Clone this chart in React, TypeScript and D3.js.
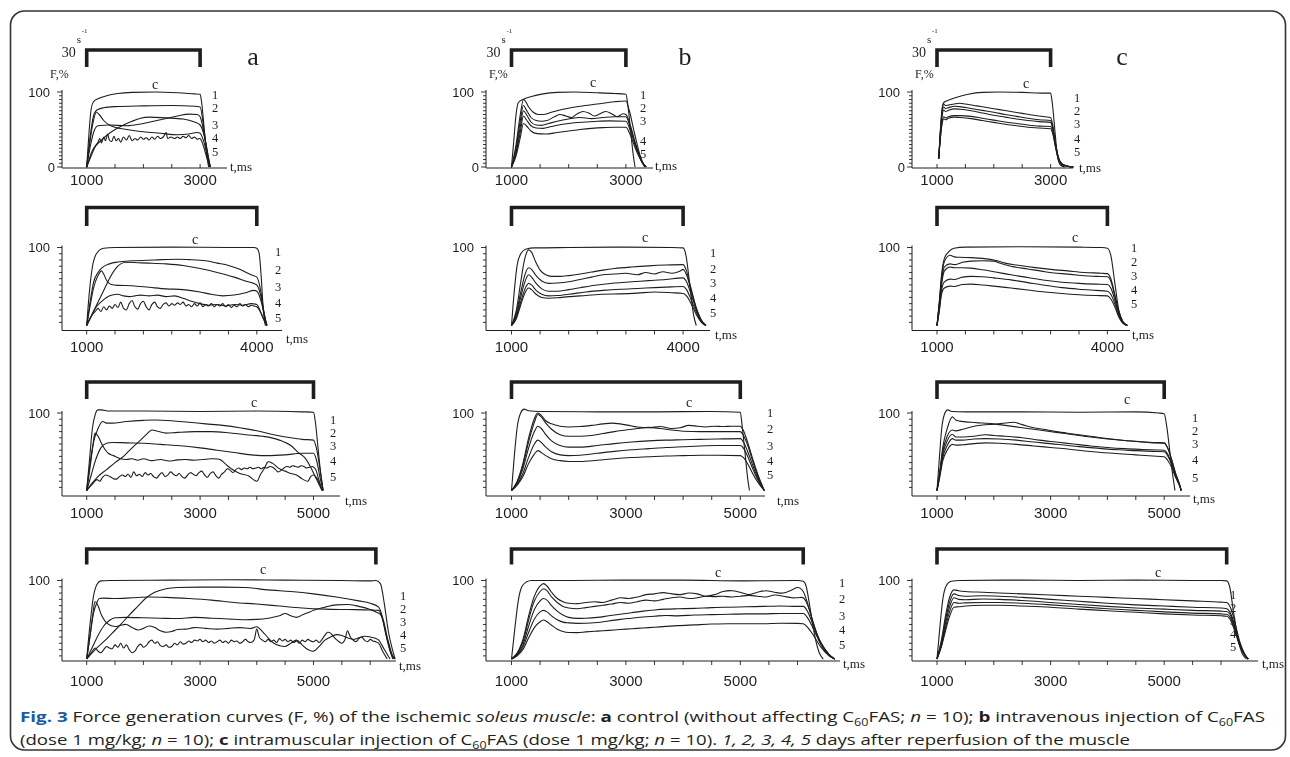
import React from 'react';
import * as d3 from 'd3';

type Pt = [number, number];

// ---------------- DATA (time ms, force %) ----------------
const curveNames = ['1', '2', '3', '4', '5'];
const panelLetters = ['a', 'b', 'c'];
const rowTickLabels = [[1000, 3000], [1000, 4000], [1000, 3000, 5000], [1000, 3000, 5000]];
const rowTickEnd = [3000, 4000, 5000, 6000];
const stimulusStart = 1000;
const stimulusEnd = [3000, 4000, 5000, 6100];

// Row 1, column a
const A1: Pt[][] = [
  [[1000,0],[1040,45],[1080,78],[1120,87],[1200,91],[1350,95],[1550,98],[1800,99.5],[2200,100],[2600,99],[2900,97.5],[3000,97],[3020,90],[3080,45],[3120,15],[3150,0]],
  [[1000,0],[1060,40],[1120,68],[1180,76],[1300,79],[1500,80.5],[2000,81.5],[2500,82],[2900,81],[3000,80],[3060,55],[3120,20],[3170,0]],
  [[1000,0],[1060,35],[1120,62],[1170,73],[1220,70],[1300,62],[1400,56],[1500,53],[1700,50],[2000,47],[2300,45],[2600,43],[2800,44],[2950,46],[3000,45],[3080,30],[3150,8],[3180,0]],
  [[1000,0],[1080,15],[1150,27],[1250,35],[1350,42],[1500,50],[1650,56],[1800,61],[1950,65],[2100,66.5],[2400,65.5],[2700,64],[2900,60],[3000,56],[3060,45],[3130,20],[3180,0]],
  [[1000,0],[1070,30],[1130,48],[1200,55],[1400,56],[1700,55],[2000,58],[2300,63],[2600,68],[2800,70.5],[2950,70],[3000,67],[3070,45],[3140,15],[3180,0]],
  [[1000,0],[1050,12],[1100,22],[1150,28],[1200,33],[1230,38],[1260,32],[1300,40],[1330,35],[1370,44],[1400,36],[1440,34],[1480,41],[1520,35],[1560,38],[1600,33],[1650,40],[1700,36],[1750,42],[1800,35],[1850,38],[1900,36],[1950,40],[2000,37],[2050,39],[2100,36],[2150,40],[2200,37],[2250,41],[2300,38],[2350,40],[2400,46],[2430,38],[2480,40],[2550,38],[2600,40],[2650,38],[2700,41],[2750,39],[2800,42],[2850,38],[2900,40],[2950,37],[3000,38],[3050,30],[3120,12],[3170,0]],
];

// Row 2, column a
const A2: Pt[][] = [
  [[1000,0],[1050,45],[1100,75],[1180,93],[1300,99],[1500,100],[2500,100.5],[3500,100],[3950,100],[4000,99],[4040,93],[4080,60],[4110,25],[4150,0]],
  [[1000,0],[1060,30],[1120,55],[1200,68],[1270,74],[1400,79],[1550,81.5],[1800,83],[2200,84],[2600,85],[2800,84.5],[3100,83],[3300,80],[3500,77],[3700,72],[3900,65],[4000,62],[4060,48],[4120,20],[4170,0]],
  [[1000,0],[1100,15],[1200,30],[1300,45],[1400,60],[1500,72],[1600,79],[1700,81],[1900,80.5],[2100,80],[2400,79],[2700,77],[3000,73],[3300,68],[3600,62],[3800,57],[4000,52],[4070,38],[4130,15],[4180,0]],
  [[1000,0],[1060,25],[1120,48],[1200,64],[1260,70],[1300,66],[1350,58],[1420,53],[1550,51.5],[1800,51],[2100,49],[2400,47],[2700,46],[3000,43],[3200,40],[3400,38],[3600,39],[3800,42],[3950,45],[4000,44],[4080,30],[4140,10],[4180,0]],
  [[1000,0],[1080,12],[1150,22],[1250,30],[1350,36],[1450,39],[1550,40],[1650,38],[1750,37],[1850,38],[1950,39],[2100,38],[2250,39],[2400,37],[2550,38],[2700,35],[2850,31],[3000,28],[3150,26],[3300,27],[3450,25],[3600,27],[3750,26],[3900,28],[4000,27],[4080,15],[4150,4],[4180,0]],
  [[1000,0],[1050,8],[1100,14],[1150,18],[1200,22],[1250,18],[1300,24],[1350,20],[1400,25],[1450,22],[1500,27],[1550,23],[1600,30],[1650,22],[1700,20],[1750,28],[1800,32],[1850,24],[1900,21],[1950,28],[2000,31],[2050,24],[2100,20],[2150,27],[2200,30],[2250,24],[2300,22],[2350,27],[2400,29],[2450,25],[2500,28],[2550,26],[2600,29],[2650,27],[2700,30],[2750,25],[2800,27],[2850,24],[2900,28],[2950,25],[3000,29],[3050,24],[3100,27],[3150,25],[3200,28],[3250,24],[3300,27],[3350,25],[3400,28],[3450,24],[3500,27],[3550,23],[3600,26],[3650,24],[3700,28],[3750,25],[3800,27],[3850,24],[3900,26],[3950,25],[4000,24],[4060,18],[4120,8],[4170,0]],
];

// Row 3, column a
const A3: Pt[][] = [
  [[1000,0],[1050,40],[1100,80],[1150,98],[1200,104],[1250,104],[1400,102.5],[2000,102.5],[3000,102],[4000,102.5],[4800,101.5],[5000,101],[5030,90],[5080,55],[5130,20],[5170,0]],
  [[1000,0],[1060,35],[1120,62],[1200,80],[1280,89],[1350,87],[1450,87],[1700,89],[2000,90.5],[2200,91],[2500,90],[2800,88],[3100,86],[3400,84],[3700,81],[4000,77],[4300,72],[4600,68],[4800,66],[5000,65],[5050,55],[5120,25],[5170,0]],
  [[1000,0],[1100,10],[1200,18],[1350,27],[1500,36],[1650,44],[1800,55],[1950,65],[2050,72],[2150,78],[2250,76.5],[2400,74],[2600,75],[2900,76],[3200,76],[3500,74.5],[3800,72],[4100,70],[4400,65],[4600,58],[4750,48],[4850,42],[4950,30],[5050,15],[5150,0]],
  [[1000,0],[1060,30],[1110,58],[1150,74],[1200,70],[1280,58],[1380,48],[1470,45],[1600,41],[1700,40],[1800,41],[1900,39],[2000,41],[2150,38.5],[2300,40],[2450,38],[2600,39.5],[2750,40],[2900,39],[3050,40],[3200,41],[3350,40],[3450,34],[3550,28],[3700,22],[3850,19],[4000,12],[4060,20],[4130,28],[4200,37],[4280,35],[4400,28],[4500,25],[4600,22],[4700,20],[4800,15],[4900,12],[4950,18],[5000,20],[5050,17],[5100,10],[5160,0]],
  [[1000,0],[1080,20],[1160,40],[1250,55],[1350,61],[1450,62],[1700,61.5],[2000,61],[2300,59.5],[2600,58],[3000,55],[3300,52],[3600,49],[3900,46],[4200,45],[4500,46],[4800,48],[5000,48],[5050,40],[5120,15],[5170,0]],
  [[1000,0],[1060,5],[1120,10],[1180,14],[1230,12],[1280,17],[1330,20],[1380,19],[1430,17],[1480,15],[1530,15],[1580,18],[1630,20],[1680,18],[1730,21],[1780,17],[1830,24],[1880,19],[1930,21],[1980,18],[2030,23],[2080,20],[2130,22],[2180,18],[2230,16],[2280,20],[2330,23],[2380,18],[2430,20],[2480,24],[2530,21],[2580,19],[2630,22],[2680,18],[2730,16],[2780,20],[2830,23],[2880,21],[2930,19],[2980,23],[3030,25],[3080,20],[3130,17],[3180,22],[3230,24],[3280,19],[3330,16],[3380,21],[3430,24],[3480,28],[3530,26],[3580,23],[3630,27],[3680,29],[3730,27],[3780,29],[3830,28],[3880,30],[3930,28],[3980,29],[4030,30],[4080,28],[4130,30],[4180,29],[4230,31],[4280,30],[4330,27],[4380,24],[4430,26],[4480,29],[4530,31],[4580,30],[4630,32],[4680,31],[4730,30],[4780,32],[4830,31],[4880,29],[4930,30],[4980,31],[5030,28],[5090,15],[5150,0]],
];

// Row 4, column a
const A4: Pt[][] = [
  [[1000,0],[1060,45],[1120,80],[1180,95],[1250,99.5],[1400,100],[2500,100.5],[3500,101],[4500,100.5],[5500,100],[6000,99.5],[6100,100],[6180,96],[6250,70],[6320,35],[6400,10],[6440,0]],
  [[1000,0],[1060,30],[1120,58],[1180,72],[1220,77],[1300,77.5],[1500,77],[1800,78],[2100,79],[2400,78.5],[2800,77],[3200,75],[3600,72],[4000,70],[4400,67.5],[4800,65],[5200,63.5],[5600,63],[6000,62.5],[6150,62],[6220,50],[6300,25],[6380,5],[6420,0]],
  [[1000,0],[1150,12],[1300,22],[1450,33],[1600,44],[1750,56],[1900,67],[2050,78],[2200,85],[2400,89.5],[2600,91],[3000,91.5],[3400,91.5],[3800,91],[4200,88],[4600,86],[5000,83],[5400,79],[5800,74],[6000,71],[6150,66],[6230,50],[6310,25],[6390,5],[6430,0]],
  [[1000,0],[1060,30],[1110,58],[1150,73],[1200,68],[1260,56],[1350,46],[1450,42],[1530,41.5],[1600,43],[1700,44],[1800,40],[1900,37],[2000,39],[2100,42],[2200,40],[2300,36],[2400,34],[2500,35],[2600,37.5],[2750,38],[2900,40],[3100,39],[3300,38],[3500,39],[3700,40],[3900,39],[4000,41],[4100,35],[4200,27],[4300,20],[4400,17],[4500,16],[4600,20],[4700,24],[4800,18],[4900,12],[5000,10],[5100,16],[5200,24],[5300,28],[5400,31],[5500,30],[5600,27],[5700,25],[5800,27],[5900,29],[6000,28],[6100,26],[6150,24],[6250,12],[6350,0]],
  [[1000,0],[1100,15],[1200,30],[1300,42],[1400,49],[1500,52.5],[1700,53],[2000,52.5],[2300,52],[2600,51.5],[2900,53],[3200,52],[3500,51],[3800,50],[4000,50.5],[4200,52],[4400,55],[4500,58],[4600,55],[4700,53],[4800,56],[4900,59],[5000,62],[5200,66],[5400,69],[5600,69.5],[5800,67],[6000,63],[6100,60],[6200,55],[6280,30],[6350,10],[6400,0]],
  [[1000,0],[1080,8],[1150,14],[1200,10],[1250,8],[1300,12],[1350,16],[1400,14],[1450,13],[1500,18],[1550,15],[1600,20],[1650,14],[1700,18],[1750,12],[1800,8],[1850,10],[1900,16],[1950,19],[2000,15],[2050,17],[2100,22],[2150,24],[2200,20],[2250,22],[2300,17],[2350,16],[2400,18],[2450,15],[2500,16],[2550,20],[2600,18],[2650,22],[2700,19],[2750,20],[2800,23],[2850,21],[2900,24],[2950,23],[3000,25],[3050,22],[3100,24],[3150,21],[3200,23],[3250,20],[3300,22],[3350,24],[3400,21],[3450,23],[3500,20],[3550,24],[3600,22],[3650,23],[3700,20],[3750,22],[3800,25],[3850,22],[3900,21],[3950,24],[4000,38],[4050,27],[4100,24],[4150,22],[4200,25],[4250,22],[4300,24],[4350,21],[4400,26],[4450,23],[4500,25],[4550,22],[4600,24],[4650,21],[4700,23],[4750,20],[4800,24],[4850,22],[4900,25],[4950,23],[5000,22],[5050,24],[5100,21],[5150,25],[5200,30],[5250,34],[5300,33],[5350,29],[5400,25],[5450,22],[5500,20],[5550,24],[5600,36],[5650,28],[5700,24],[5750,22],[5800,26],[5850,28],[5900,24],[5950,22],[6000,25],[6050,23],[6100,22],[6150,20],[6220,10],[6300,0]],
];

// Row 1, column b
const B1: Pt[][] = [
  [[1000,0],[1040,35],[1080,70],[1120,86],[1200,90],[1350,94],[1550,97.5],[1800,99.5],[2100,100],[2500,99],[2800,98],[3000,97],[3030,85],[3080,50],[3130,15],[3160,0]],
  [[1000,0],[1080,30],[1150,68],[1210,90],[1240,88],[1300,80],[1380,73],[1470,70],[1550,70],[1700,73],[1900,77],[2200,81],[2500,84],[2800,87],[3000,88],[3060,75],[3150,45],[3250,15],[3330,0]],
  [[1000,0],[1080,25],[1150,60],[1210,82],[1260,76],[1340,66],[1430,62],[1520,61],[1620,62],[1750,67],[1850,70],[1950,68],[2050,66],[2150,71],[2250,74],[2350,72],[2450,68],[2550,71],[2650,74],[2750,71],[2850,67],[2950,71],[3000,70],[3080,55],[3170,30],[3270,8],[3330,0]],
  [[1000,0],[1080,20],[1150,52],[1210,75],[1260,70],[1340,60],[1430,56],[1520,55.5],[1650,58],[1800,61],[2000,64],[2200,66],[2400,64.5],[2600,66],[2800,67],[3000,67],[3080,52],[3180,28],[3280,7],[3340,0]],
  [[1000,0],[1080,18],[1150,45],[1210,68],[1260,63],[1340,55],[1430,52],[1550,51.5],[1700,54],[1900,57],[2100,59],[2300,60],[2500,61],[2700,61.5],[3000,61],[3080,48],[3180,25],[3280,7],[3350,0]],
  [[1000,0],[1080,15],[1150,38],[1210,58],[1260,55],[1340,48],[1450,44.5],[1600,44],[1800,46],[2000,48],[2200,50],[2400,51.5],[2600,52.5],[2800,53],[3000,53],[3080,42],[3180,22],[3290,6],[3360,0]],
];

// Row 2, column b
const B2: Pt[][] = [
  [[1000,0],[1050,45],[1100,78],[1170,93],[1260,98],[1400,99.5],[2000,100],[3000,100.5],[3800,100],[4000,99.5],[4050,90],[4120,50],[4180,15],[4230,0]],
  [[1000,0],[1080,18],[1160,55],[1230,85],[1300,97],[1350,94],[1420,82],[1500,71],[1600,65],[1700,63],[1850,63],[2000,64],[2200,66],[2400,68.5],[2600,71],[2800,73],[3100,75],[3400,76.5],[3700,77.5],[4000,78],[4050,72],[4130,50],[4220,25],[4320,7],[4400,0]],
  [[1000,0],[1080,15],[1160,42],[1230,64],[1300,74],[1350,72],[1430,64],[1530,57],[1650,54],[1800,54.5],[2000,56],[2200,59],[2400,62],[2600,65],[2800,66],[3000,67],[3200,65],[3350,68],[3500,66],[3650,69],[3800,67],[3950,70],[4000,72],[4060,65],[4140,45],[4230,22],[4320,6],[4400,0]],
  [[1000,0],[1080,12],[1160,36],[1230,55],[1300,65],[1350,62],[1430,54],[1530,47],[1650,44],[1800,44],[2000,46],[2200,48.5],[2500,52],[2800,54.5],[3100,56],[3400,57.5],[3700,59],[4000,61],[4060,56],[4140,40],[4230,20],[4320,5],[4400,0]],
  [[1000,0],[1080,10],[1160,30],[1230,46],[1300,54],[1350,52],[1430,45],[1530,40],[1650,38],[1800,38.5],[2000,40],[2300,43],[2600,45],[2900,46.5],[3200,47.5],[3500,48.5],[3800,49.5],[4000,50],[4060,46],[4140,33],[4230,17],[4320,5],[4400,0]],
  [[1000,0],[1080,8],[1160,26],[1230,41],[1300,48],[1350,46],[1430,40],[1530,36],[1650,35],[1800,35.5],[2000,37],[2300,38.5],[2600,40],[2900,40.5],[3200,41.5],[3500,43],[3800,42],[4000,41],[4060,38],[4140,28],[4230,14],[4320,4],[4400,0]],
];

// Row 3, column b
const B3: Pt[][] = [
  [[1000,0],[1050,45],[1100,82],[1160,100],[1220,105],[1300,103],[1500,102],[2500,101.5],[3500,101.5],[4500,102],[5000,101],[5030,85],[5080,50],[5130,15],[5160,0]],
  [[1000,0],[1100,12],[1200,35],[1300,68],[1400,93],[1460,100],[1520,97],[1600,90],[1700,86],[1850,83],[2000,82],[2200,82.5],[2400,84],[2600,86],[2750,87],[2900,86],[3050,84],[3200,82],[3400,81],[3600,82.5],[3800,80],[3950,81],[4100,84],[4250,83],[4400,82],[4550,83],[4700,82.5],[4850,83],[5000,83],[5050,78],[5130,62],[5220,40],[5320,18],[5420,0]],
  [[1000,0],[1100,11],[1200,32],[1300,63],[1400,88],[1460,98],[1520,95],[1600,87],[1700,79],[1850,72],[2000,70],[2200,70],[2400,71],[2600,73.5],[2800,76],[3000,78],[3200,80],[3400,81.5],[3600,80],[3800,78],[4000,76.5],[4300,76],[4600,76],[5000,76],[5050,72],[5130,58],[5220,37],[5320,16],[5420,0]],
  [[1000,0],[1100,10],[1200,28],[1300,55],[1400,76],[1460,83],[1520,80],[1600,72],[1700,64],[1850,58],[2000,56],[2200,56],[2500,58],[2800,60.5],[3100,62.5],[3400,64],[3700,65],[4000,65.5],[4300,66],[4600,66.5],[5000,67],[5060,62],[5140,48],[5230,30],[5330,12],[5420,0]],
  [[1000,0],[1100,8],[1200,22],[1300,43],[1400,60],[1460,65],[1520,62],[1600,56],[1700,50],[1850,46],[2000,45],[2200,45.5],[2500,48],[2800,50.5],[3100,52.5],[3400,54],[3700,55.5],[4000,56.5],[4300,57.5],[4600,58],[5000,58],[5060,54],[5140,42],[5230,26],[5330,10],[5420,0]],
  [[1000,0],[1100,7],[1200,18],[1300,35],[1400,47],[1460,51.5],[1520,49],[1600,45],[1700,41],[1850,38.5],[2000,37.5],[2200,37.5],[2500,39],[2800,41],[3100,42.5],[3400,43.5],[3700,44.5],[4000,45],[4300,45.5],[4600,45.5],[5000,45],[5060,42],[5140,33],[5230,20],[5330,8],[5420,0]],
];

// Row 4, column b
const B4: Pt[][] = [
  [[1000,0],[1060,40],[1120,75],[1180,92],[1260,98],[1350,100],[2000,100],[3000,100.5],[4000,100.5],[5000,99.5],[6000,100],[6100,99],[6150,93],[6220,65],[6300,30],[6380,8],[6450,0]],
  [[1000,0],[1100,8],[1200,25],[1300,55],[1400,80],[1500,93],[1560,96],[1620,93],[1700,85],[1800,77],[1900,73],[2000,71],[2150,70.5],[2300,72],[2450,73],[2600,72],[2750,75],[2900,78],[3050,77],[3200,79],[3350,82],[3500,83],[3650,84.5],[3800,83],[3950,82],[4100,84],[4250,83],[4400,80],[4550,82],[4700,86],[4850,87],[5000,85],[5150,82],[5300,85],[5450,87],[5600,85],[5750,84],[5900,88],[6000,91],[6050,90],[6100,86],[6180,70],[6280,45],[6400,20],[6550,5],[6650,0]],
  [[1000,0],[1100,7],[1200,22],[1300,50],[1400,74],[1500,86],[1560,89.5],[1620,87],[1700,79],[1800,72],[1900,67],[2000,65],[2150,64],[2300,65.5],[2450,67],[2600,68.5],[2750,70],[2900,72],[3050,71],[3200,73],[3350,75],[3500,74],[3650,76],[3800,78],[3950,79],[4100,77],[4250,78],[4400,80],[4550,79.5],[4700,80],[4850,79],[5000,80],[5150,81],[5300,80],[5450,79],[5600,81.5],[5750,80],[5900,78],[6000,78],[6100,78],[6180,68],[6280,45],[6400,22],[6550,6],[6650,0]],
  [[1000,0],[1100,6],[1200,18],[1300,42],[1400,63],[1500,74],[1560,77],[1620,75],[1700,68],[1800,61],[1900,56],[2000,53],[2150,51.7],[2300,52],[2500,53],[2700,55],[2900,57],[3100,59],[3300,61],[3500,62.5],[3700,63.5],[3900,64],[4200,64.5],[4500,65.5],[4800,66],[5100,66.5],[5400,67],[5700,67.5],[6000,67],[6100,67],[6180,60],[6280,42],[6400,22],[6550,6],[6650,0]],
  [[1000,0],[1100,5],[1200,15],[1300,34],[1400,51],[1500,60],[1560,62],[1620,60],[1700,55],[1800,50],[1900,47],[2000,46],[2150,45.4],[2300,45.5],[2500,46.5],[2700,48.5],[2900,50.5],[3100,52],[3300,53.5],[3500,54.5],[3700,55.5],[3900,55],[4200,56],[4500,56.5],[4800,57],[5100,57.5],[5400,57.5],[5700,58],[6000,58],[6100,58],[6180,52],[6280,38],[6400,20],[6550,5],[6650,0]],
  [[1000,0],[1100,4],[1200,12],[1300,27],[1400,40],[1500,47.5],[1560,49.6],[1620,47.5],[1700,43],[1800,38],[1900,35],[2000,33.8],[2150,33.6],[2300,34.5],[2500,35.5],[2700,36.5],[2900,37.5],[3100,38.5],[3300,39.5],[3500,40.5],[3700,41.5],[3900,42.5],[4200,43.5],[4500,44.5],[4800,45],[5100,45],[5400,45],[5700,45.5],[6000,45.4],[6100,45],[6180,40],[6280,30],[6400,16],[6550,4],[6650,0]],
];

// Row 1, column c
const C1: Pt[][] = [
  [[1030,11],[1060,50],[1090,78],[1120,86],[1200,89],[1350,93],[1550,97],[1800,99.5],[2100,100],[2500,99.5],[2900,98.5],[3000,98.5],[3030,85],[3080,45],[3120,15],[3170,3],[3250,0]],
  [[1030,11],[1060,48],[1090,75],[1120,84],[1150,82],[1200,82.5],[1300,84],[1400,85],[1500,84],[1700,81.5],[1900,79],[2100,76.5],[2300,74],[2500,71.5],[2700,69],[2900,67],[3000,66],[3040,55],[3090,30],[3140,12],[3200,4],[3300,1],[3400,0]],
  [[1030,11],[1060,46],[1090,72],[1120,80],[1150,78],[1200,79],[1300,81],[1400,80.5],[1600,78],[1800,75.5],[2000,73],[2200,70],[2400,67.5],[2600,65],[2800,63],[3000,62],[3040,52],[3090,30],[3140,12],[3200,4],[3300,1],[3400,0]],
  [[1030,11],[1060,44],[1090,68],[1120,76],[1150,74],[1200,75.5],[1300,77.5],[1400,77],[1600,75],[1800,72],[2000,69],[2200,66.5],[2400,64],[2600,62],[2800,60.5],[3000,59.5],[3040,50],[3090,28],[3140,11],[3200,4],[3300,1],[3400,0]],
  [[1030,11],[1060,40],[1090,60],[1120,67],[1150,65.5],[1200,67],[1300,68.5],[1400,68.5],[1600,67.5],[1800,65],[2000,62.5],[2200,60],[2400,58],[2600,56],[2800,54.5],[3000,54],[3040,46],[3090,26],[3140,10],[3200,3],[3300,1],[3400,0]],
  [[1030,11],[1060,38],[1090,58],[1120,64],[1150,63],[1200,65],[1300,66.5],[1400,66],[1600,64.5],[1800,62],[2000,59.5],[2200,57],[2400,55],[2600,53],[2800,52],[3000,51],[3040,44],[3090,25],[3140,10],[3200,3],[3300,1],[3400,0]],
];

// Row 2, column c
const C2: Pt[][] = [
  [[1000,0],[1040,30],[1080,65],[1130,86],[1200,94],[1300,99],[1500,100.5],[2500,101],[3500,100.5],[3900,100],[4000,99],[4060,90],[4130,55],[4200,20],[4270,5],[4350,0]],
  [[1000,0],[1040,28],[1080,60],[1130,82],[1230,90],[1300,88],[1400,87.5],[1600,87],[1800,86],[2000,84],[2200,80],[2400,77.5],[2700,74.5],[3000,72],[3300,70],[3600,68],[3900,67],[4000,66.5],[4060,60],[4130,40],[4200,18],[4270,5],[4350,0]],
  [[1000,0],[1040,26],[1080,56],[1130,75],[1230,79],[1300,78],[1450,81],[1600,82.5],[1800,83],[2000,82.5],[2100,80],[2300,76],[2600,72.5],[2900,69],[3200,66.5],[3500,64.5],[3800,63],[4000,62.5],[4060,57],[4130,38],[4200,17],[4270,5],[4350,0]],
  [[1000,0],[1040,24],[1080,52],[1130,70],[1230,75],[1300,74],[1450,74],[1600,73.5],[1800,71.5],[2000,69],[2300,65],[2600,61.5],[2900,58],[3200,55.5],[3500,54],[3800,53],[4000,52.5],[4060,48],[4130,33],[4200,15],[4270,4],[4350,0]],
  [[1000,0],[1040,20],[1080,45],[1130,56],[1230,59.5],[1300,59],[1450,62],[1600,63],[1800,62.5],[2000,61],[2300,58.5],[2600,55],[2900,51.5],[3200,48.5],[3500,46.5],[3800,45],[4000,44],[4060,40],[4130,28],[4200,13],[4270,4],[4350,0]],
  [[1000,0],[1040,18],[1080,40],[1130,48],[1230,50.5],[1300,50],[1450,52.5],[1600,53],[1800,52],[2000,50.5],[2300,48],[2600,45.5],[2900,43],[3200,41],[3500,39.5],[3800,38.5],[4000,38],[4060,34],[4130,24],[4200,11],[4270,3],[4350,0]],
];

// Row 3, column c
const C3: Pt[][] = [
  [[1000,0],[1040,40],[1080,78],[1130,98],[1190,104],[1260,102],[1500,101.5],[2500,101.5],[3500,101],[4500,101.5],[4900,100],[5000,99],[5040,85],[5100,50],[5150,20],[5190,0]],
  [[1000,0],[1050,25],[1100,55],[1180,80],[1270,95],[1330,91],[1400,89.5],[1600,88],[1800,87],[2000,86],[2200,84],[2500,81],[2800,78],[3100,75],[3400,72],[3700,69],[4000,66.5],[4300,64.5],[4600,63],[4800,62],[5000,61.5],[5060,55],[5130,40],[5200,22],[5270,8],[5300,0]],
  [[1000,0],[1050,24],[1100,50],[1180,70],[1270,78],[1330,77],[1450,79],[1600,82],[1800,84.5],[2000,85.5],[2200,87],[2350,88],[2500,85],[2700,81],[2900,78.5],[3100,76],[3400,73],[3700,70],[4000,67],[4300,64.5],[4600,62.5],[4800,61.5],[5000,61],[5060,55],[5130,40],[5200,22],[5270,8],[5300,0]],
  [[1000,0],[1050,22],[1100,46],[1180,64],[1270,72.5],[1330,69],[1450,69],[1650,70],[1850,72],[2000,71],[2200,70],[2500,68],[2800,65],[3100,62.5],[3400,60],[3700,57.5],[4000,55.5],[4300,54],[4600,53],[5000,52],[5060,47],[5130,35],[5200,20],[5270,7],[5300,0]],
  [[1000,0],[1050,20],[1100,42],[1180,58],[1270,67],[1330,65],[1450,65],[1650,66.5],[1850,67],[2100,66.5],[2400,65],[2700,62.5],[3000,60.5],[3300,58],[3600,56],[3900,54],[4200,52.5],[4500,51.5],[4800,50.5],[5000,50],[5060,45],[5130,34],[5200,19],[5270,7],[5300,0]],
  [[1000,0],[1050,18],[1100,38],[1180,52],[1270,59.5],[1330,58.5],[1450,59],[1650,60.5],[1850,61.5],[2100,61],[2400,59.5],[2700,57.5],[3000,55.5],[3300,53.5],[3600,51],[3900,49],[4200,47.5],[4500,46],[4800,44.5],[5000,43.5],[5060,39],[5130,30],[5200,17],[5270,6],[5300,0]],
];

// Row 4, column c
const C4: Pt[][] = [
  [[1000,0],[1050,40],[1100,75],[1160,93],[1250,99],[1400,100],[2500,100.5],[3500,100],[4500,100.5],[5500,100],[6000,100],[6100,99.5],[6150,93],[6220,60],[6300,25],[6380,6],[6450,0]],
  [[1000,0],[1080,25],[1150,55],[1220,78],[1300,88],[1380,87],[1500,86],[1800,85],[2100,84],[2500,83],[3000,81.5],[3500,80],[4000,78.5],[4500,77],[5000,75.5],[5500,74],[6000,72.5],[6100,72],[6170,65],[6250,45],[6330,22],[6420,6],[6480,0]],
  [[1000,0],[1080,22],[1150,50],[1220,72],[1300,83],[1380,81],[1500,80],[1800,80.5],[2100,80],[2500,78.5],[3000,76],[3500,73.5],[4000,71],[4500,69],[5000,67.5],[5500,66],[6000,65],[6100,64],[6170,58],[6250,40],[6330,20],[6420,5],[6480,0]],
  [[1000,0],[1080,20],[1150,45],[1220,66],[1300,78],[1380,76],[1500,75.5],[1800,76.5],[2100,76],[2500,74.5],[3000,72],[3500,69.5],[4000,67],[4500,65],[5000,63.5],[5500,62],[6000,61],[6100,60.5],[6170,55],[6250,38],[6330,19],[6420,5],[6480,0]],
  [[1000,0],[1080,18],[1150,40],[1220,60],[1300,72],[1380,71],[1500,71.5],[1800,72],[2100,72],[2500,71],[3000,69],[3500,66.5],[4000,64],[4500,62],[5000,60],[5500,58.5],[6000,57.5],[6100,57],[6170,52],[6250,36],[6330,18],[6420,5],[6480,0]],
  [[1000,0],[1080,16],[1150,36],[1220,54],[1300,66],[1380,66.5],[1500,67.5],[1800,68.5],[2100,68.5],[2500,67.5],[3000,66],[3500,63.5],[4000,61.5],[4500,59.5],[5000,57.5],[5500,56],[6000,55],[6100,54.5],[6170,49],[6250,34],[6330,17],[6420,5],[6480,0]],
];

const PANELS: Pt[][][][] = [
  [A1, B1, C1],
  [A2, B2, C2],
  [A3, B3, C3],
  [A4, B4, C4],
];

// ---------------- LAYOUT ----------------
const COLS = [
  { axisX: 62, x1000: 86.7, k: 0.0567, letterX: 253, fX: 50 },
  { axisX: 486, x1000: 511.5, k: 0.0572, letterX: 685, fX: 489 },
  { axisX: 912, x1000: 937, k: 0.0568, letterX: 1122, fX: 915 },
];
const ROWS = [
  { y100: 92, y0: 167, axisY: 168, brTop: 50, brBot: 67, tickDy: 17, tickDir: -1, yStep: 5 },
  { y100: 247.5, y0: 325.5, axisY: 330.5, brTop: 207.5, brBot: 226, tickDy: 21, tickDir: 1, yStep: 8 },
  { y100: 413, y0: 490.5, axisY: 496, brTop: 382, brBot: 399, tickDy: 22, tickDir: 1, yStep: 8 },
  { y100: 580.5, y0: 659, axisY: 661, brTop: 549, brBot: 564.5, tickDy: 25, tickDir: 1, yStep: 8 },
];
const POS = [
  [
    { axisEnd: 227, tms: [230, 171], lx: 215, ly: [95, 108, 125, 138, 152], cl: [155, 85] },
    { axisEnd: 653, tms: [655, 170], lx: 643, ly: [95, 108, 121, 141, 154], cl: [593, 83] },
    { axisEnd: 1073, tms: [1079, 172], lx: 1077, ly: [98, 111, 124, 139, 152], cl: [1026, 84] },
  ],
  [
    { axisEnd: 282, tms: [286, 343], lx: 278, ly: [252, 270, 287, 303, 318], cl: [195, 240] },
    { axisEnd: 710, tms: [715, 339], lx: 713, ly: [253, 269, 283, 298, 313], cl: [645, 238] },
    { axisEnd: 1130, tms: [1132, 339], lx: 1134, ly: [248, 262, 276, 290, 304], cl: [1075, 238] },
  ],
  [
    { axisEnd: 340, tms: [345, 505], lx: 333, ly: [420, 433, 446, 461, 477], cl: [254, 403] },
    { axisEnd: 765, tms: [777, 505], lx: 770, ly: [413, 429, 446, 461, 475], cl: [689, 403] },
    { axisEnd: 1190, tms: [1193, 503], lx: 1195, ly: [418, 431, 444, 460, 478], cl: [1127, 400] },
  ],
  [
    { axisEnd: 396, tms: [399, 670], lx: 403, ly: [596, 609, 622, 635, 648], cl: [263, 570] },
    { axisEnd: 840, tms: [843, 668], lx: 842, ly: [583, 599, 616, 630, 645], cl: [718, 573] },
    { axisEnd: 1258, tms: [1262, 668], lx: 1233, ly: [595, 608, 621, 634, 647], cl: [1158, 573] },
  ],
];

const SERIF = "'Liberation Serif', 'Times New Roman', serif";
const SANS = "'Liberation Sans', Arial, sans-serif";
const CAPFONT = "'Open Sans', 'Noto Sans', sans-serif";
const INK = '#1e1e1e';
const BLUE = '#1a5c9e';

type Part = { t: string; b?: boolean; i?: boolean; sub?: boolean; blue?: boolean };
const captionLine1: Part[] = [
  { t: 'Fig. 3', b: true, blue: true },
  { t: ' Force generation curves (F, %) of the ischemic ' },
  { t: 'soleus muscle', i: true },
  { t: ': ' },
  { t: 'a', b: true },
  { t: ' control (without affecting C' },
  { t: '60', sub: true },
  { t: 'FAS; ' },
  { t: 'n', i: true },
  { t: ' = 10); ' },
  { t: 'b', b: true },
  { t: ' intravenous injection of C' },
  { t: '60', sub: true },
  { t: 'FAS' },
];
const captionLine2: Part[] = [
  { t: '(dose 1 mg/kg; ' },
  { t: 'n', i: true },
  { t: ' = 10); ' },
  { t: 'c', b: true },
  { t: ' intramuscular injection of C' },
  { t: '60', sub: true },
  { t: 'FAS (dose 1 mg/kg; ' },
  { t: 'n', i: true },
  { t: ' = 10). ' },
  { t: '1, 2, 3, 4, 5', i: true },
  { t: ' days after reperfusion of the muscle' },
];

function Caption({ parts, x, y, len }: { parts: Part[]; x: number; y: number; len: number }) {
  let shift = 0;
  const spans = parts.map((p, idx) => {
    const target = p.sub ? 3.5 : 0;
    const dy = target - shift;
    shift = target;
    return (
      <tspan
        key={idx}
        dy={dy}
        fontWeight={p.b ? 'bold' : 'normal'}
        fontStyle={p.i ? 'italic' : 'normal'}
        fontSize={p.sub ? 10 : 15}
        fill={p.blue ? BLUE : '#231f20'}
        style={{ whiteSpace: 'pre' }}
      >
        {p.t}
      </tspan>
    );
  });
  return (
    <text x={x} y={y} fontFamily={CAPFONT} fontSize={15} textLength={len} lengthAdjust="spacingAndGlyphs" style={{ whiteSpace: 'pre' }}>
      {spans}
    </text>
  );
}

function Panel({ row, col }: { row: number; col: number }) {
  const R = ROWS[row];
  const C = COLS[col];
  const P = POS[row][col];
  const curves = PANELS[row][col];
  const x = d3.scaleLinear().domain([1000, 2000]).range([C.x1000, C.x1000 + 1000 * C.k]);
  const y = d3.scaleLinear().domain([0, 100]).range([R.y0, R.y100]);
  const smooth = d3
    .line<Pt>()
    .x((d) => x(d[0]))
    .y((d) => y(d[1]))
    .curve(d3.curveMonotoneX);
  const wiggly = d3
    .line<Pt>()
    .x((d) => x(d[0]))
    .y((d) => y(d[1]))
    .curve(d3.curveCatmullRom.alpha(0.5));
  const yTicks = row === 0 ? d3.range(0, 101, R.yStep) : d3.range(100, 0, -R.yStep);
  const xTicks = d3.range(1000, rowTickEnd[row] + 1, 500);
  const bx1 = x(stimulusStart);
  const bx2 = x(stimulusEnd[row]);

  return (
    <g>
      <path
        d={`M${bx1},${R.brBot}V${R.brTop}H${bx2}V${R.brBot}`}
        fill="none"
        stroke={INK}
        strokeWidth={3.6}
        strokeLinejoin="miter"
      />
      {row === 0 && (
        <g fontFamily={SERIF} fill={INK}>
          <text x={bx1 - 11} y={57} fontSize={14} textAnchor="end">30</text>
          <text x={bx1 - 10} y={43} fontSize={11}>s</text>
          <text x={bx1 - 5} y={33} fontSize={7}>-1</text>
          <text x={C.fX} y={78} fontSize={12}>F,%</text>
          <text x={C.letterX} y={65} fontSize={26} textAnchor="middle">{panelLetters[col]}</text>
        </g>
      )}
      <line x1={C.axisX} x2={C.axisX} y1={R.y100 - 2} y2={R.axisY} stroke={INK} strokeWidth={1} />
      <line x1={C.axisX} x2={P.axisEnd} y1={R.axisY} y2={R.axisY} stroke={INK} strokeWidth={1} />
      {yTicks.map((v) => {
        const major = v === 100 || v === 0;
        return (
          <line key={'y' + v} x1={C.axisX - (major ? 5 : 3)} x2={C.axisX} y1={y(v)} y2={y(v)} stroke={INK} strokeWidth={0.9} />
        );
      })}
      {xTicks.map((t) => (
        <line key={'x' + t} x1={x(t)} x2={x(t)} y1={R.axisY} y2={R.axisY + 4 * R.tickDir} stroke={INK} strokeWidth={0.9} />
      ))}
      <text x={C.axisX - 12} y={R.y100 + 4.5} fontFamily={SANS} fontSize={13} textAnchor="end" fill={INK}>100</text>
      {row === 0 && (
        <text x={C.axisX - 7} y={R.y0 + 4.5} fontFamily={SANS} fontSize={13} textAnchor="end" fill={INK}>0</text>
      )}
      {rowTickLabels[row].map((t) => (
        <text key={'l' + t} x={x(t)} y={R.axisY + R.tickDy} fontFamily={SANS} fontSize={15} textAnchor="middle" fill={INK}>
          {t}
        </text>
      ))}
      <text x={P.tms[0]} y={P.tms[1]} fontFamily={SERIF} fontSize={13} fill={INK}>t,ms</text>
      {curves.map((c, i) => (
        <path
          key={'c' + i}
          d={(c.length > 40 ? wiggly(c) : smooth(c)) || ''}
          fill="none"
          stroke={INK}
          strokeWidth={1.1}
          strokeLinejoin="round"
        />
      ))}
      <text x={P.cl[0]} y={P.cl[1] + 3.5} fontFamily={SERIF} fontSize={14} textAnchor="middle" fill={INK}>c</text>
      {curveNames.map((n, i) => (
        <text key={'n' + n} x={P.lx} y={P.ly[i] + 4.2} fontFamily={SERIF} fontSize={12.5} textAnchor="middle" fill={INK}>
          {n}
        </text>
      ))}
    </g>
  );
}

export default function App() {
  const rows = [0, 1, 2, 3];
  const cols = [0, 1, 2];
  return (
    <svg
      width={1290}
      height={757}
      viewBox="0 0 1290 757"
      style={{ position: 'absolute', left: 0, top: 0, background: '#fff' }}
    >
      <rect x={0} y={0} width={1290} height={757} fill="#fff" />
      <rect x={10.5} y={11} width={1275} height={739} rx={14} ry={14} fill="none" stroke="#333" strokeWidth={1.6} />
      <g style={{ filter: 'grayscale(1)' }}>
        {rows.map((r) => cols.map((c) => <Panel key={r + '-' + c} row={r} col={c} />))}
      </g>
      <Caption parts={captionLine1} x={20} y={722} len={1245} />
      <Caption parts={captionLine2} x={20} y={745} len={1110} />
    </svg>
  );
}
